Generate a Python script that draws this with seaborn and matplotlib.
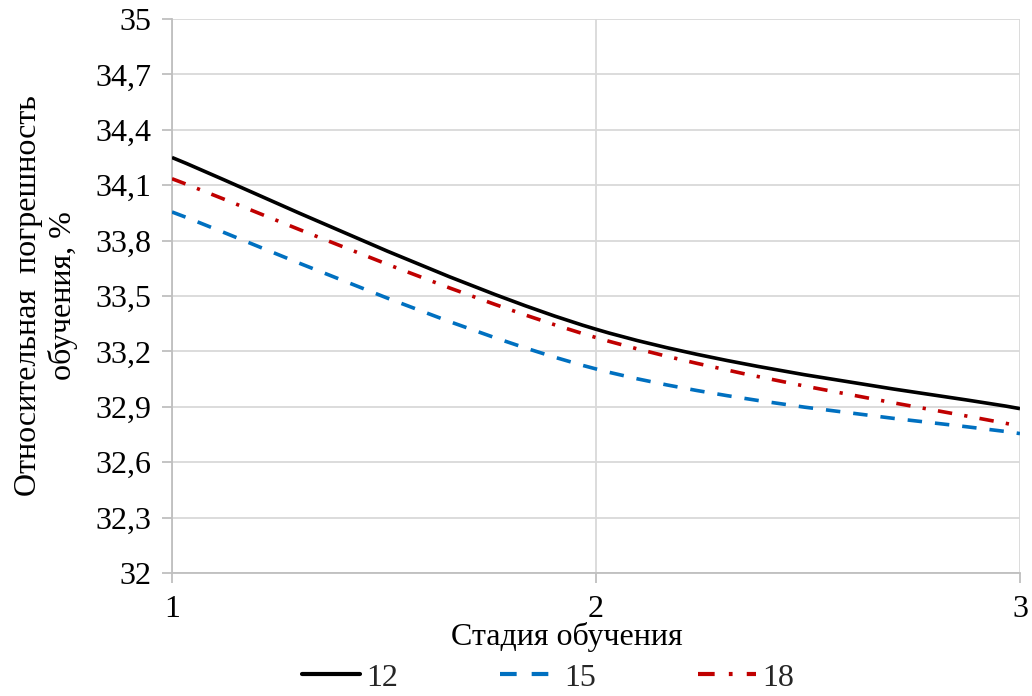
import numpy as np
import pandas as pd
import matplotlib
matplotlib.use("Agg")
import matplotlib.pyplot as plt
import seaborn as sns
from matplotlib.path import Path
from matplotlib.patches import PathPatch
from matplotlib.lines import Line2D
from matplotlib.ticker import FuncFormatter

# ---- data ----
stages = [1, 2, 3]
series_names = ["12", "15", "18"]
err_12 = [34.25, 33.32, 32.89]
err_15 = [33.955, 33.105, 32.755]
err_18 = [34.135, 33.275, 32.795]
y_ticks = [32, 32.3, 32.6, 32.9, 33.2, 33.5, 33.8, 34.1, 34.4, 34.7, 35]

df = pd.DataFrame({
    "stage": stages * 3,
    "err": err_12 + err_15 + err_18,
    "series": [s for s in series_names for _ in stages],
})

sns.set_theme(style="white")
plt.rcParams["font.family"] = ["Liberation Serif", "DejaVu Serif"]

FS = 23
colors = {"12": "#000000", "15": "#0070C0", "18": "#C00000"}
lw = 2.6
styles = {
    "12": "-",
    "15": (0, (4.0, 3.6)),
    "18": (0, (4.0, 3.4, 0.9, 3.4)),
}

fig = plt.figure(figsize=(10.32, 6.96), dpi=100)
ax = fig.add_axes([172 / 1032, 1 - 573 / 696, (1020 - 172) / 1032, (573 - 19) / 696])

# seaborn draws the series; lines are then replaced by smoothed (Bezier) paths built from the same data
sns.lineplot(data=df, x="stage", y="err", hue="series", palette=colors,
             legend=False, ax=ax, estimator=None, sort=True)

def smooth_path(xs, ys):
    pts = np.column_stack([xs, ys]).astype(float)
    n = len(pts)
    verts = [pts[0]]
    codes = [Path.MOVETO]
    for i in range(n - 1):
        p0 = pts[i - 1] if i > 0 else pts[i]
        p1 = pts[i]
        p2 = pts[i + 1]
        p3 = pts[i + 2] if i + 2 < n else pts[i + 1]
        c1 = p1 + (p2 - p0) / 6.0
        c2 = p2 - (p3 - p1) / 6.0
        verts += [c1, c2, p2]
        codes += [Path.CURVE4] * 3
    return Path(verts, codes)

lines = list(ax.get_lines())
for line in lines:
    xs, ys = line.get_xdata(), line.get_ydata()
    col = matplotlib.colors.to_hex(line.get_color())
    name = [k for k, v in colors.items() if v.lower() == col.lower()][0]
    patch = PathPatch(smooth_path(xs, ys), facecolor="none", edgecolor=colors[name],
                      lw=lw, linestyle=styles[name], capstyle="butt", zorder=3)
    ax.add_patch(patch)
    line.remove()

ax.set_xlim(1, 3)
ax.set_ylim(32, 35)
ax.set_xticks(stages)
ax.set_yticks(y_ticks)
ax.yaxis.set_major_formatter(FuncFormatter(lambda v, p: f"{v:g}".replace(".", ",")))

ax.grid(True, color="#d9d9d9", linewidth=1.3)
ax.set_axisbelow(True)
for s in ["top", "right"]:
    ax.spines[s].set_visible(False)
for s in ["left", "bottom"]:
    ax.spines[s].set_color("#bfbfbf")
    ax.spines[s].set_linewidth(1.3)

ax.tick_params(axis="both", which="major", direction="out", length=7, width=1.3,
               color="#bfbfbf", labelsize=FS, labelcolor="#000000")
ax.tick_params(axis="y", pad=8)
ax.tick_params(axis="x", pad=9)
ax.tick_params(left=True, bottom=True)

ax.set_xlabel("Стадия обучения", fontsize=FS, color="#000000")
ax.xaxis.set_label_coords((567 - 172) / 848, -(637 - 573) / 554)
ax.xaxis.label.set_va("center")
ax.set_ylabel("Относительная  погрешность\nобучения, %", fontsize=FS, color="#000000",
              linespacing=1.25)
ax.yaxis.set_label_coords(-(172 - 46) / 848, 0.5)
ax.yaxis.label.set_va("center")

handles = [Line2D([0], [0], color=colors[n], lw=lw + 0.4, linestyle=styles[n]) for n in series_names]
fig.legend(handles, series_names, loc="center", bbox_to_anchor=(0.531, 0.026), ncol=3,
           frameon=False, fontsize=FS, handlelength=1.8, handletextpad=0.2,
           columnspacing=3.2, borderpad=0.0)

fig.savefig("out.png", dpi=100)
